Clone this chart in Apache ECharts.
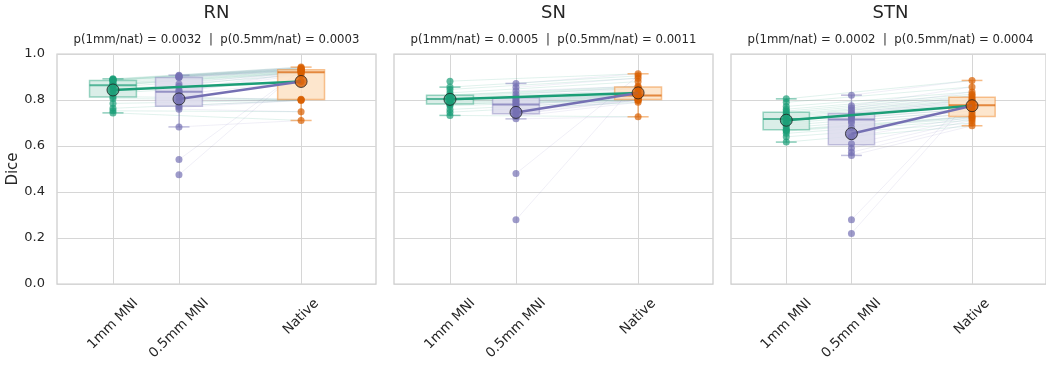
<!DOCTYPE html>
<html>
<head>
<meta charset="utf-8">
<script src="https://cdn.jsdelivr.net/npm/echarts@6/dist/echarts.min.js"></script>
<style>
  html, body { margin: 0; padding: 0; background: #fff; }
  #main { width: 1046px; height: 367px; }
</style>
</head>
<body>
<div id="main"></div>
<script>
// ---- data ----
const regions = ['RN', 'SN', 'STN'];
const conditions = ['1mm MNI', '0.5mm MNI', 'Native'];
const conditionX = [0, 1, 2.85];
const pTexts = [
  'p(1mm/nat) = 0.0032  |  p(0.5mm/nat) = 0.0003',
  'p(1mm/nat) = 0.0005  |  p(0.5mm/nat) = 0.0011',
  'p(1mm/nat) = 0.0002  |  p(0.5mm/nat) = 0.0004'
];

// one value per subject, same subject order in each list
const rn1mm = [0.744, 0.753, 0.764, 0.785, 0.806, 0.815, 0.830, 0.845, 0.855, 0.863, 0.865, 0.868, 0.872, 0.878, 0.884, 0.886, 0.887, 0.889, 0.890, 0.892];
const rn05mm = [0.683, 0.760, 0.768, 0.775, 0.795, 0.810, 0.825, 0.834, 0.838, 0.845, 0.860, 0.870, 0.898, 0.541, 0.899, 0.900, 0.475, 0.903, 0.905, 0.908];
const rnNative = [0.711, 0.749, 0.798, 0.800, 0.801, 0.803, 0.880, 0.910, 0.918, 0.920, 0.922, 0.925, 0.927, 0.929, 0.931, 0.933, 0.935, 0.937, 0.940, 0.943];

const sn1mm = [0.733, 0.747, 0.759, 0.775, 0.782, 0.783, 0.788, 0.792, 0.797, 0.802, 0.806, 0.808, 0.812, 0.816, 0.820, 0.822, 0.831, 0.846, 0.856, 0.882];
const sn05mm = [0.718, 0.728, 0.738, 0.741, 0.750, 0.760, 0.770, 0.778, 0.782, 0.790, 0.795, 0.800, 0.808, 0.813, 0.825, 0.840, 0.279, 0.855, 0.480, 0.872];
const snNative = [0.727, 0.790, 0.798, 0.800, 0.801, 0.803, 0.808, 0.812, 0.816, 0.819, 0.821, 0.826, 0.838, 0.850, 0.855, 0.860, 0.880, 0.895, 0.905, 0.914];

const stn1mm = [0.617, 0.640, 0.655, 0.665, 0.668, 0.671, 0.680, 0.690, 0.700, 0.712, 0.722, 0.728, 0.733, 0.738, 0.745, 0.752, 0.760, 0.772, 0.790, 0.805];
const stn05mm = [0.559, 0.573, 0.590, 0.610, 0.640, 0.680, 0.700, 0.710, 0.720, 0.725, 0.730, 0.735, 0.740, 0.745, 0.220, 0.755, 0.279, 0.765, 0.775, 0.821];
const stnNative = [0.688, 0.700, 0.712, 0.720, 0.726, 0.729, 0.740, 0.752, 0.762, 0.772, 0.782, 0.790, 0.798, 0.803, 0.810, 0.818, 0.825, 0.835, 0.857, 0.885];

const panelData = [
  [rn1mm, rn05mm, rnNative],
  [sn1mm, sn05mm, snNative],
  [stn1mm, stn05mm, stnNative]
];

const colors = ['#1b9e77', '#7570b3', '#d95f02'];
const rgb = [[27, 158, 119], [117, 112, 179], [217, 95, 2]];
const boxFill = ['#d4ebe4', '#dcdbec', '#fde2c4'];
const boxEdge = ['rgba(27,158,119,0.5)', 'rgba(117,112,179,0.45)', 'rgba(240,140,50,0.6)'];
function rgba(i, a) { return 'rgba(' + rgb[i].join(',') + ',' + a + ')'; }

// ---- layout ----
const gridLeft = [57, 394, 731];
const gridWidth = 319;
const gridTop = 54;
const gridHeight = 230;
const boxWidth = 0.71;

function quantile(sorted, q) {
  const pos = (sorted.length - 1) * q;
  const lo = Math.floor(pos), hi = Math.ceil(pos);
  return sorted[lo] + (sorted[hi] - sorted[lo]) * (pos - lo);
}
function boxStats(vals) {
  const s = vals.slice().sort((a, b) => a - b);
  const q1 = quantile(s, 0.25), med = quantile(s, 0.5), q3 = quantile(s, 0.75);
  const iqr = q3 - q1;
  const lo = s.filter(v => v >= q1 - 1.5 * iqr)[0];
  const inside = s.filter(v => v <= q3 + 1.5 * iqr);
  const hi = inside[inside.length - 1];
  return [lo, q1, med, q3, hi];
}
function mean(vals) { return vals.reduce((a, b) => a + b, 0) / vals.length; }

const labelRich = {
  c0: { fontSize: 13.5, color: '#262626', fontFamily: 'DejaVu Sans' },
  c1: { fontSize: 13.5, color: '#262626', fontFamily: 'DejaVu Sans', padding: [6, 6, 0, 0] },
  c2: { fontSize: 13.5, color: '#262626', fontFamily: 'DejaVu Sans', padding: [0, 0, 10, 10] }
};

const grids = [], xAxes = [], yAxes = [], titles = [], series = [];

panelData.forEach(function (groups, p) {
  grids.push({
    left: gridLeft[p], top: gridTop, width: gridWidth, height: gridHeight,
    show: true, borderColor: '#cccccc', borderWidth: 1.25, backgroundColor: '#fff'
  });
  xAxes.push({
    gridIndex: p, type: 'value', min: -0.848, max: 3.985,
    axisLine: { show: false },
    axisTick: { show: false, customValues: conditionX },
    splitLine: { show: true, lineStyle: { color: '#d6d6d6', width: 1 } },
    axisLabel: {
      customValues: conditionX,
      rotate: 45, align: 'center', verticalAlign: 'middle', margin: 40,
      formatter: function (v) {
        let idx = 0;
        conditionX.forEach(function (c, i) { if (Math.abs(c - v) < 1e-6) idx = i; });
        return '{c' + idx + '|' + conditions[idx] + '}';
      },
      rich: labelRich
    }
  });
  yAxes.push({
    gridIndex: p, type: 'value', min: 0, max: 1, interval: 0.2,
    axisLine: { show: false }, axisTick: { show: false },
    splitLine: { show: true, lineStyle: { color: '#d6d6d6', width: 1 } },
    axisLabel: {
      show: p === 0, margin: 12, fontSize: 13, color: '#262626', fontFamily: 'DejaVu Sans',
      formatter: function (v) { return v.toFixed(1); }
    },
    name: p === 0 ? 'Dice' : '',
    nameLocation: 'middle', nameGap: 36, nameRotate: 90,
    nameTextStyle: { fontSize: 15, color: '#262626', fontFamily: 'DejaVu Sans' }
  });
  const cx = gridLeft[p] + gridWidth / 2;
  titles.push({
    text: regions[p], left: cx, top: 4, textAlign: 'center', padding: 0,
    textStyle: { fontSize: 18, fontWeight: 'normal', color: '#262626', fontFamily: 'DejaVu Sans' }
  });
  titles.push({
    text: pTexts[p], left: cx, top: 34, textAlign: 'center', padding: 0,
    textStyle: { fontSize: 11.7, fontWeight: 'normal', color: '#262626', fontFamily: 'DejaVu Sans' }
  });

  const nat = groups[2];
  // per-subject connecting lines
  const pairLines = [];
  [0, 1].forEach(function (g) {
    groups[g].forEach(function (v, i) {
      pairLines.push([conditionX[g], v, conditionX[2], nat[i], g]);
    });
  });
  series.push({
    type: 'custom', xAxisIndex: p, yAxisIndex: p, z: 1, silent: true,
    encode: { x: [0, 2], y: [1, 3] },
    data: pairLines,
    renderItem: function (params, api) {
      const a = api.coord([api.value(0), api.value(1)]);
      const b = api.coord([api.value(2), api.value(3)]);
      const g = api.value(4);
      return {
        type: 'line',
        shape: { x1: a[0], y1: a[1], x2: b[0], y2: b[1] },
        style: { stroke: g === 0 ? rgba(0, 0.17) : rgba(1, 0.14), lineWidth: 0.8 }
      };
    }
  });

  // boxes
  const boxes = groups.map(function (vals, g) {
    return [conditionX[g]].concat(boxStats(vals), [g]);
  });
  series.push({
    type: 'custom', xAxisIndex: p, yAxisIndex: p, z: 2, silent: true,
    encode: { x: 0, y: [1, 5] },
    data: boxes,
    renderItem: function (params, api) {
      const x = api.value(0), g = api.value(6);
      const lo = api.coord([x, api.value(1)]);
      const q1 = api.coord([x, api.value(2)]);
      const md = api.coord([x, api.value(3)]);
      const q3 = api.coord([x, api.value(4)]);
      const hi = api.coord([x, api.value(5)]);
      const hw = api.size([boxWidth, 0])[0] / 2;
      const cw = hw * 0.45;
      const ls = { stroke: boxEdge[g], lineWidth: 1.5 };
      return {
        type: 'group',
        children: [
          { type: 'line', shape: { x1: lo[0], y1: lo[1], x2: lo[0], y2: q1[1] }, style: ls },
          { type: 'line', shape: { x1: hi[0], y1: hi[1], x2: hi[0], y2: q3[1] }, style: ls },
          { type: 'line', shape: { x1: lo[0] - cw, y1: lo[1], x2: lo[0] + cw, y2: lo[1] }, style: ls },
          { type: 'line', shape: { x1: hi[0] - cw, y1: hi[1], x2: hi[0] + cw, y2: hi[1] }, style: ls },
          { type: 'rect', shape: { x: q3[0] - hw, y: q3[1], width: hw * 2, height: q1[1] - q3[1] },
            style: { fill: boxFill[g], opacity: 0.85, stroke: boxEdge[g], lineWidth: 1.5 } },
          { type: 'line', shape: { x1: md[0] - hw, y1: md[1], x2: md[0] + hw, y2: md[1] },
            style: { stroke: rgba(g, 0.7), lineWidth: 2 } }
        ]
      };
    }
  });

  // subject points
  groups.forEach(function (vals, g) {
    series.push({
      type: 'scatter', xAxisIndex: p, yAxisIndex: p, z: 3, silent: true,
      symbolSize: 7,
      itemStyle: { color: colors[g], opacity: 0.7 },
      data: vals.map(function (v) { return [conditionX[g], v]; })
    });
  });

  // mean lines and markers
  const means = groups.map(mean);
  [0, 1].forEach(function (g) {
    series.push({
      type: 'line', xAxisIndex: p, yAxisIndex: p, z: 4, silent: true,
      symbol: 'none',
      lineStyle: { color: colors[g], width: 2.5 },
      data: [[conditionX[g], means[g]], [conditionX[2], means[2]]]
    });
  });
  series.push({
    type: 'scatter', xAxisIndex: p, yAxisIndex: p, z: 5, silent: true,
    symbolSize: 12,
    data: means.map(function (m, g) {
      return { value: [conditionX[g], m], itemStyle: { color: colors[g], borderColor: '#222', borderWidth: 1 } };
    })
  });
});

const chart = echarts.init(document.getElementById('main'), null, { renderer: 'canvas' });
chart.setOption({
  animation: false,
  backgroundColor: '#ffffff',
  textStyle: { fontFamily: 'DejaVu Sans' },
  title: titles,
  grid: grids,
  xAxis: xAxes,
  yAxis: yAxes,
  series: series
});
</script>
</body>
</html>
